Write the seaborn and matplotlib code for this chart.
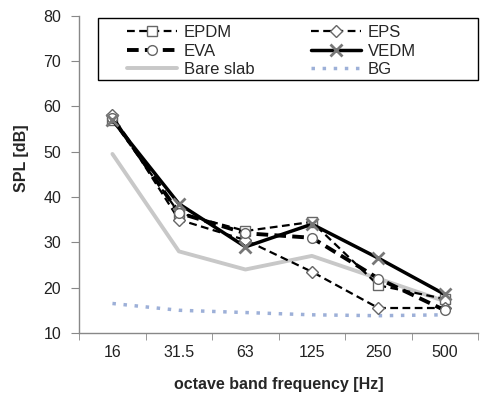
import matplotlib
matplotlib.use('Agg')
import matplotlib.pyplot as plt
import seaborn as sns
import pandas as pd
from matplotlib.ticker import FixedLocator
from matplotlib.patches import Rectangle

# octave bands and measured SPL per floor covering
bands = ['16', '31.5', '63', '125', '250', '500']
epdm = [57, 36.5, 32.5, 34.5, 20.5, 17.5]
eps = [58, 35, 30.5, 23.5, 15.5, 15.5]
eva = [57.5, 36.5, 32, 31, 22, 15]
vedm = [57, 38.5, 29, 34, 26.5, 18.5]
bare_slab = [49.5, 28, 24, 27, 22, 17]
bg = [16.5, 15, 14.5, 14, 13.8, 14]

sns.set_style('white')
plt.rcParams['font.family'] = ['Liberation Sans', 'DejaVu Sans']

pos = list(range(len(bands)))
df = pd.DataFrame({'pos': pos, 'EPDM': epdm, 'EPS': eps, 'EVA': eva,
                   'VEDM': vedm, 'Bare slab': bare_slab, 'BG': bg})

fig = plt.figure(figsize=(4.8, 3.94), dpi=100)
ax = fig.add_axes([0.165, 0.155, 0.831, 0.805])

mk = dict(markerfacecolor='white', markeredgecolor='#666666', markersize=7, markeredgewidth=1)

sns.lineplot(data=df, x='pos', y='Bare slab', ax=ax, color='#c8c8c8', linewidth=2.8, label='Bare slab')
sns.lineplot(data=df, x='pos', y='BG', ax=ax, color='#9db0d8', linewidth=2.5, linestyle=(0, (1, 2.2)), label='BG')
sns.lineplot(data=df, x='pos', y='EPDM', ax=ax, color='black', linewidth=1.6,
             linestyle=(0, (3.5, 2)), marker='s', label='EPDM', **mk)
sns.lineplot(data=df, x='pos', y='EPS', ax=ax, color='black', linewidth=1.6,
             linestyle=(0, (3.5, 2)), marker='D', label='EPS',
             markerfacecolor='white', markeredgecolor='#666666', markersize=6, markeredgewidth=1)
sns.lineplot(data=df, x='pos', y='EVA', ax=ax, color='black', linewidth=2.8,
             linestyle=(0, (3, 1.6)), marker='o', label='EVA', **mk)
sns.lineplot(data=df, x='pos', y='VEDM', ax=ax, color='black', linewidth=2.5,
             marker='x', label='VEDM', markeredgecolor='#777777', markersize=8, markeredgewidth=2)

ax.set_xlim(-0.5, len(bands) - 0.5)
ax.set_ylim(10, 80)
ax.set_yticks(range(10, 81, 10))
ax.set_xticks(pos)
ax.set_xticklabels(bands)
ax.xaxis.set_minor_locator(FixedLocator([p - 0.5 for p in pos] + [len(bands) - 0.5]))
ax.tick_params(axis='x', which='major', length=0, pad=9, labelsize=11.5, labelcolor='#222222')
ax.tick_params(axis='x', which='minor', length=5, color='#888888', direction='out', bottom=True)
ax.tick_params(axis='y', length=6, color='#888888', direction='out', left=True, pad=7,
               labelsize=11.5, labelcolor='#222222')

for s in ['top', 'right']:
    ax.spines[s].set_visible(False)
for s in ['left', 'bottom']:
    ax.spines[s].set_color('#888888')
    ax.spines[s].set_linewidth(1)

ax.set_xlabel('octave band frequency [Hz]', fontsize=11.5, fontweight='bold', labelpad=12)
ax.set_ylabel('SPL [dB]', fontsize=11.5, fontweight='bold')
ax.yaxis.set_label_coords(-0.125, 0.55)

# legend box drawn separately so the columns can sit where the original has them
ax.add_patch(Rectangle((0.048, 0.798), 0.952, 0.196, transform=ax.transAxes,
                       fill=True, facecolor='white', edgecolor='black', linewidth=1,
                       clip_on=False, zorder=5))

handles, labels = ax.get_legend_handles_labels()
lookup = dict(zip(labels, handles))
order = ['EPDM', 'EVA', 'Bare slab', 'EPS', 'VEDM', 'BG']
leg = ax.legend([lookup[k] for k in order], order, ncol=2, loc='upper left',
                bbox_to_anchor=(0.12, 0.97), borderaxespad=0, frameon=False,
                fontsize=12, handlelength=3.0, handletextpad=0.4, labelspacing=0.2,
                borderpad=0, columnspacing=3.4)
leg.set_zorder(6)

fig.savefig('out.png', dpi=100)
